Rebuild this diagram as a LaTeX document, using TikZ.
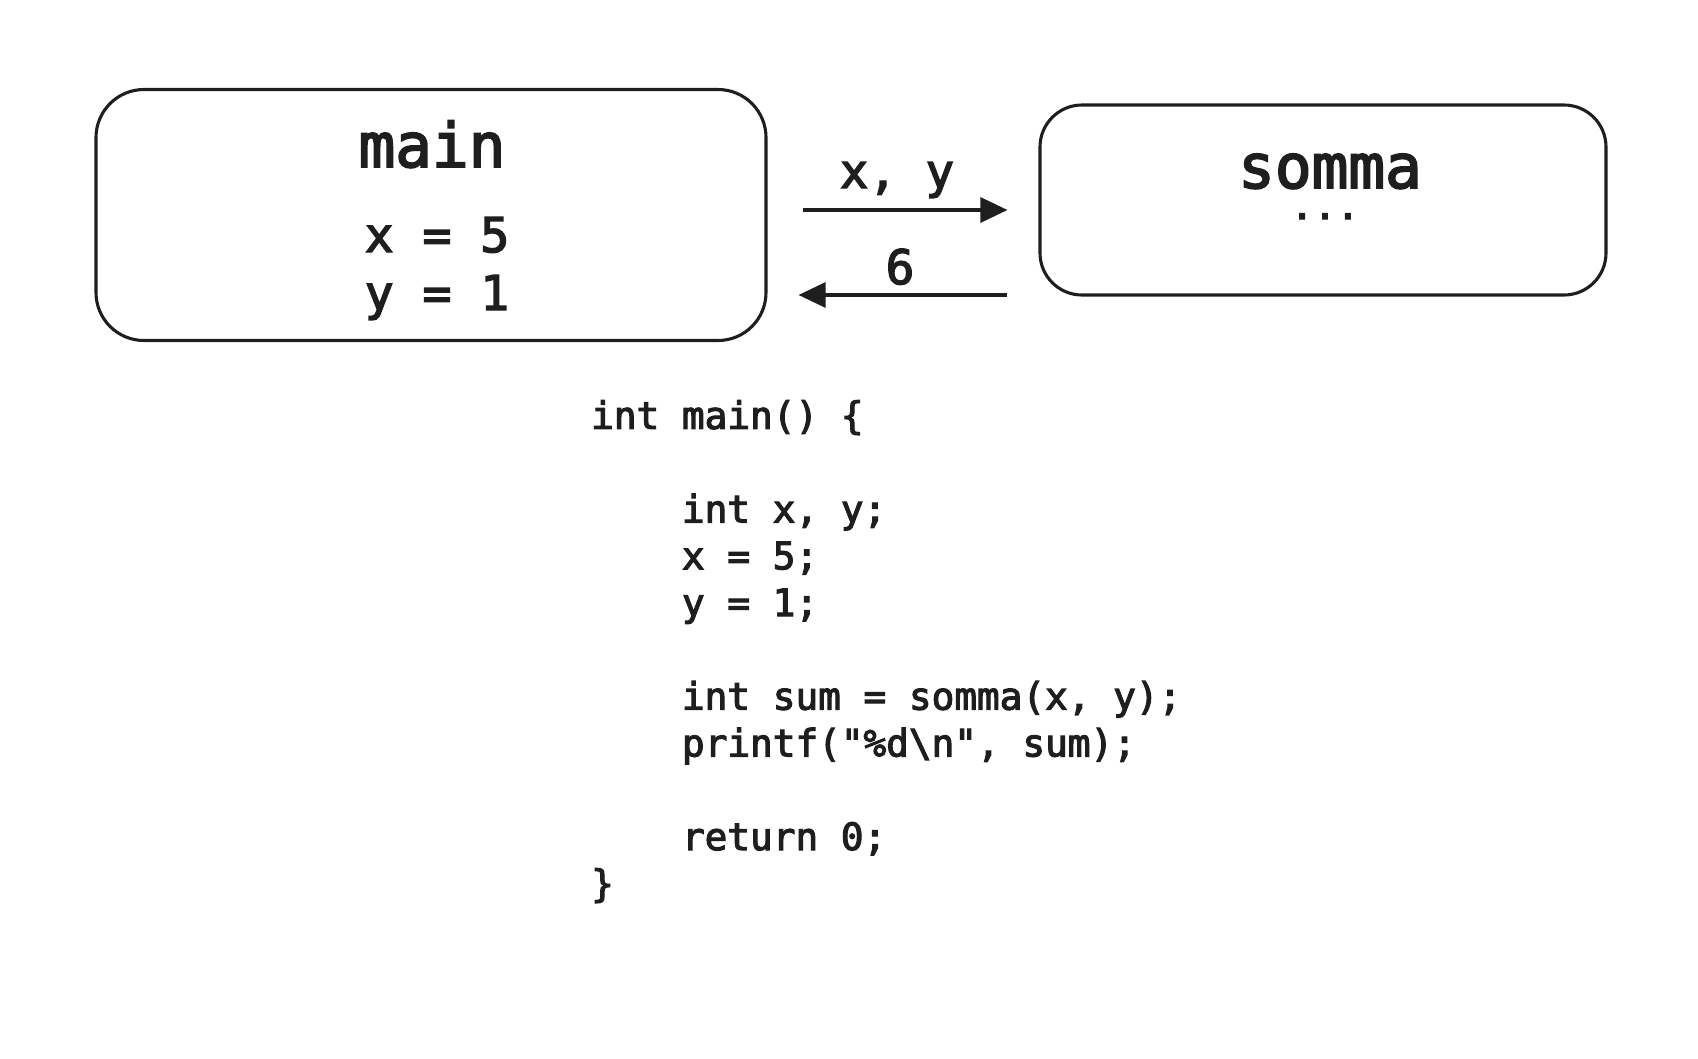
\documentclass[tikz,border=0pt]{standalone}
\usepackage{fontspec}
\setmonofont{DejaVu Sans Mono}[FakeBold=3]
\usepackage{tikz}
\usetikzlibrary{arrows.meta,positioning}
\definecolor{ink}{HTML}{1E1E1E}
\tikzset{
  frame/.style={draw=ink, line width=3.1pt, rounded corners=48pt, inner sep=0pt},
  flow/.style={draw=ink, line width=3.1pt, -{Triangle[length=27pt,width=25pt]}},
  title/.style={text=ink, anchor=base, inner sep=0pt, font=\ttfamily\fontsize{61}{70}\selectfont},
  value/.style={text=ink, anchor=base, inner sep=0pt, font=\ttfamily\fontsize{48}{59}\selectfont},
  code/.style={text=ink, anchor=north west, inner sep=0pt, align=left, font=\ttfamily\fontsize{37.7}{46.8}\selectfont}
}

\begin{document}
\begin{tikzpicture}[x=1pt,y=-1pt]
\useasboundingbox[fill=white] (0,0) rectangle (1698,1058);
% the two frames
\node[frame, minimum width=670pt, minimum height=251pt] (main) at (431,215) {};
\node[frame, rounded corners=42pt, minimum width=566pt, minimum height=190pt] (somma) at (1323,200) {};
% inside the frames
\node[title] (mainname) at (432,167) {main};
\node[value] (xval) at (437,252) {x = 5};
\node[value] (yval) at (437,310) {y = 1};
\node[title] (sommaname) at (1330,188) {somma};
\node[text=ink, anchor=base, inner sep=0pt, font=\ttfamily\fontsize{38}{40}\selectfont] (dots) at (1325,219) {...};
% call and return
\draw[flow, shorten <=35pt, shorten >=31pt] (main.east |- 0,210) -- (somma.west |- 0,210);
\draw[flow, shorten <=31pt, shorten >=31pt] (somma.west |- 0,295) -- (main.east |- 0,295);
\node[value, font=\ttfamily\fontsize{47.5}{58}\selectfont] (args) at (897,188) {x, y};
\node[value, font=\ttfamily\fontsize{47.5}{58}\selectfont] (result) at (900,284) {6};
% the program
\node[code] (program) at (591,400) {
int main() \{\\
\\
\phantom{xxxx}int x, y;\\
\phantom{xxxx}x = 5;\\
\phantom{xxxx}y = 1;\\
\\
\phantom{xxxx}int sum = somma(x, y);\\
\phantom{xxxx}printf("\%d\textbackslash n", sum);\\
\\
\phantom{xxxx}return 0;\\
\}};
\end{tikzpicture}
\end{document}
